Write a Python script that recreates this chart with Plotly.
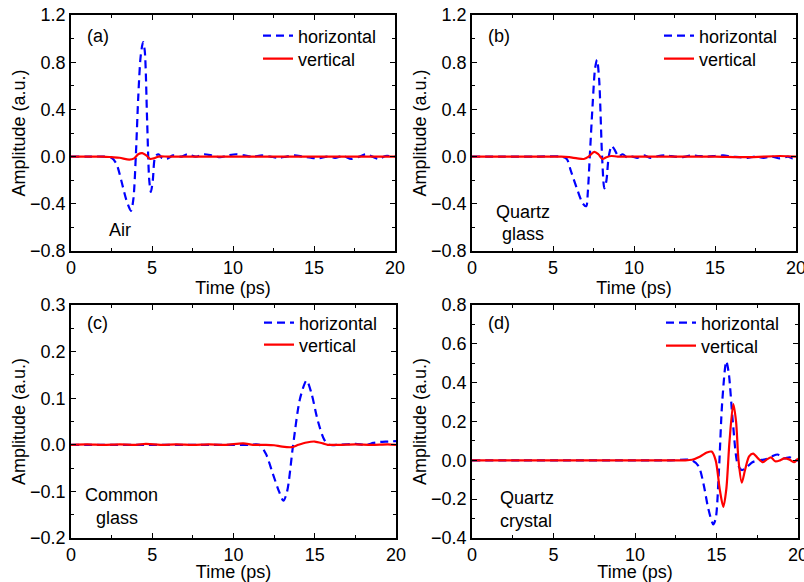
import plotly.graph_objects as go

# ---------------- data ----------------
# (a) Air
a_h_t = [0, 1, 2, 2.5, 2.8, 3.1, 3.4, 3.7, 3.85, 4.0, 4.15, 4.3, 4.45, 4.55, 4.7, 4.83, 4.93, 5.05, 5.2, 5.4, 5.6, 5.9, 6.3, 6.8, 7.2, 7.7, 8.2, 8.7, 9.2, 9.7, 10.2, 10.7, 11.2, 11.8, 12.3, 12.8, 13.3, 13.8, 14.3, 14.8, 15.3, 15.8, 16.3, 16.8, 17.3, 17.8, 18.2, 18.6, 19.0, 19.4, 20]
a_h_v = [0, 0, 0, -0.01, -0.06, -0.2, -0.36, -0.46, -0.36, 0.0, 0.5, 0.85, 0.97, 0.9, 0.3, -0.2, -0.3, -0.2, 0.0, 0.02, -0.01, -0.02, 0.01, 0.0, 0.02, 0.0, 0.02, 0.01, -0.005, 0.01, 0.02, 0.01, 0.0, 0.01, 0.0, -0.01, 0.0, 0.01, 0.0, -0.01, -0.015, 0.0, -0.01, 0.005, -0.02, 0.0, 0.02, 0.0, -0.02, 0.005, 0.0]
a_v_t = [0, 1, 2, 2.5, 3.0, 3.6, 3.9, 4.15, 4.4, 4.65, 4.9, 5.1, 5.4, 6.0, 8, 10, 12, 14, 16, 18, 20]
a_v_v = [0, 0, 0, -0.005, -0.01, -0.025, -0.015, 0.02, 0.03, 0.01, -0.02, -0.015, 0.0, 0.0, 0.0, 0.0, 0.0, 0.0, 0.0, 0.0, 0.0]

# (b) Quartz glass
b_h_t = [0, 2, 4, 5.5, 5.85, 6.1, 6.5, 6.85, 7.05, 7.15, 7.27, 7.45, 7.6, 7.72, 7.85, 8.03, 8.17, 8.3, 8.44, 8.62, 8.8, 9.05, 9.3, 9.6, 9.9, 10.2, 10.6, 11.0, 11.5, 12.0, 12.5, 13.0, 13.5, 14.0, 14.5, 15.0, 15.5, 16.0, 16.5, 17.0, 17.5, 18.0, 18.5, 19.0, 19.5, 19.8, 20]
b_h_v = [0, 0, 0, 0, -0.02, -0.12, -0.28, -0.4, -0.42, -0.3, 0.0, 0.45, 0.75, 0.82, 0.65, 0.0, -0.27, -0.2, 0.0, 0.09, 0.06, 0.0, 0.02, -0.01, 0.0, -0.01, 0.01, -0.01, 0.005, 0.01, 0.0, -0.005, 0.01, 0.005, 0.0, 0.005, 0.01, 0.0, -0.005, -0.01, 0.0, -0.01, 0.0, -0.015, 0.0, -0.015, 0.0]
b_v_t = [0, 2, 4, 5.5, 6.0, 6.5, 6.9, 7.2, 7.55, 7.8, 8.05, 8.3, 8.6, 9.0, 11, 13, 15, 17, 19, 20]
b_v_v = [0, 0, 0, 0, -0.005, -0.015, -0.02, 0.0, 0.04, 0.02, -0.02, -0.005, 0.005, 0.0, 0.0, 0.0, 0.0, -0.005, 0.005, 0.0]

# (c) Common glass
c_h_t = [0, 2, 4, 6, 8, 10, 11.0, 11.6, 12.0, 12.4, 12.8, 13.07, 13.3, 13.67, 14.1, 14.5, 14.8, 15.2, 15.6, 15.9, 16.5, 17.5, 18.2, 18.6, 19.0, 19.5, 20]
c_h_v = [0, 0, 0, 0, 0, 0, 0, 0, -0.02, -0.06, -0.1, -0.12, -0.1, 0.0, 0.1, 0.138, 0.11, 0.05, 0.01, 0.0, 0.0, 0.002, 0.0, 0.004, 0.006, 0.007, 0.008]
c_v_t = [0, 1, 2, 3, 4, 4.6, 5.5, 6.5, 7.5, 8.5, 9.5, 10.6, 11.2, 12.0, 12.5, 13.0, 13.6, 14.0, 14.5, 15.0, 15.5, 15.8, 16.5, 17.5, 18.5, 19.5, 20]
c_v_v = [0, 0.001, 0, 0.001, 0, 0.002, 0, 0.001, 0, 0.001, 0, 0.003, 0, 0.0, -0.001, -0.004, -0.005, 0.0, 0.005, 0.007, 0.003, 0.0, 0.0, 0.001, 0.0, 0.001, 0.0]

# (d) Quartz crystal
d_h_t = [0, 3, 6, 9, 12, 13.5, 13.9, 14.2, 14.5, 14.8, 14.95, 15.15, 15.35, 15.6, 15.75, 16.0, 16.3, 16.55, 16.8, 17.2, 17.6, 18.0, 18.4, 18.75, 19.1, 19.5, 19.8, 20]
d_h_v = [0, 0, 0, 0, 0, 0, -0.03, -0.12, -0.25, -0.33, -0.3, -0.05, 0.3, 0.51, 0.45, 0.2, -0.02, -0.05, -0.04, -0.01, 0.0, 0.005, 0.02, 0.03, 0.01, 0.015, 0.0, 0.0]
d_v_t = [0, 3, 6, 9, 12, 13.0, 13.5, 14.0, 14.4, 14.7, 14.95, 15.2, 15.42, 15.6, 15.8, 16.03, 16.2, 16.35, 16.55, 16.75, 17.0, 17.25, 17.55, 17.85, 18.1, 18.35, 18.6, 18.9, 19.15, 19.45, 19.75, 20]
d_v_v = [0, 0, 0, 0, 0, 0.0, 0.003, 0.02, 0.04, 0.045, 0.0, -0.15, -0.24, -0.15, 0.1, 0.29, 0.2, 0.0, -0.115, -0.05, 0.02, 0.035, 0.01, -0.01, 0.005, 0.015, -0.005, 0.0, 0.01, 0.005, -0.01, 0.01]

panel_labels = ["(a)", "(b)", "(c)", "(d)"]
series_names = ["horizontal", "vertical"]

W, H = 804, 582
FONT = "Liberation Sans, Arial, sans-serif"
BLUE = "#0000ff"
RED = "#ff0000"

def px_x(p):
    return p / W

def px_y(p):
    return 1 - p / H

# plot-area pixel boxes (left, right, top, bottom)
boxes = [(71, 395, 15, 251), (472, 796, 15, 251), (71, 396, 305, 538), (472, 798, 305, 538)]
yranges = [(-0.8, 1.2), (-0.8, 1.2), (-0.2, 0.3), (-0.4, 0.8)]
ydticks = [0.4, 0.4, 0.1, 0.2]
legend_rows = [(36, 59), (36, 59), (323, 345), (323, 346)]
data = [(a_h_t, a_h_v, a_v_t, a_v_v), (b_h_t, b_h_v, b_v_t, b_v_v),
        (c_h_t, c_h_v, c_v_t, c_v_v), (d_h_t, d_h_v, d_v_t, d_v_v)]

fig = go.Figure()
layout = {}
for i in range(4):
    sfx = "" if i == 0 else str(i + 1)
    xa, ya = "x" + sfx, "y" + sfx
    lg_h = "legend" if i == 0 else "legend" + str(2 * i + 1)
    lg_v = "legend" + str(2 * i + 2)
    ht, hv, vt, vv = data[i]
    fig.add_trace(go.Scatter(x=ht, y=hv, mode="lines", name=series_names[0], xaxis=xa, yaxis=ya,
                             legend=lg_h, showlegend=True,
                             line=dict(color=BLUE, width=2.2, dash="8px,5px", shape="spline", smoothing=0.8)))
    fig.add_trace(go.Scatter(x=vt, y=vv, mode="lines", name=series_names[1], xaxis=xa, yaxis=ya,
                             legend=lg_v, showlegend=True,
                             line=dict(color=RED, width=2.2, shape="spline", smoothing=0.8)))
    l, r, t, b = boxes[i]
    common = dict(showline=True, linecolor="black", linewidth=1.6, mirror="allticks",
                  ticks="inside", ticklen=5, tickwidth=1.3, tickcolor="black",
                  showgrid=False, zeroline=False, automargin=False, ticklabeloverflow="allow",
                  tickfont=dict(family=FONT, size=18, color="black"))
    layout["xaxis" + sfx] = dict(common, domain=[px_x(l), px_x(r)], range=[0, 20], dtick=5, tick0=0,
                                 anchor=ya, minor=dict(ticks="inside", ticklen=3, dtick=2.5, tickcolor="black"),
                                 title=dict(text="Time (ps)", font=dict(family=FONT, size=18, color="black"), standoff=0))
    layout["yaxis" + sfx] = dict(common, domain=[px_y(b), px_y(t)], range=list(yranges[i]), dtick=ydticks[i],
                                 tick0=0, tickformat=".1f", anchor=xa,
                                 minor=dict(ticks="inside", ticklen=3, dtick=ydticks[i] / 2, tickcolor="black"),
                                 title=dict(text="Amplitude (a.u.)", font=dict(family=FONT, size=18, color="black"), standoff=0))
    for lg, row in ((lg_h, legend_rows[i][0]), (lg_v, legend_rows[i][1])):
        layout[lg] = dict(x=px_x(r - 137), y=px_y(row), xanchor="left", yanchor="middle",
                          bgcolor="rgba(0,0,0,0)", borderwidth=0,
                          font=dict(family=FONT, size=18, color="black"))

ann = []
label_pos = [(85, 36), (486, 36), (85, 323), (486, 323)]
for lab, (x, y) in zip(panel_labels, label_pos):
    ann.append(dict(text=lab, x=px_x(x), y=px_y(y), xref="paper", yref="paper", xanchor="left",
                    yanchor="middle", showarrow=False, font=dict(family=FONT, size=18, color="black")))
names = [("Air", 107, 230, "left"), ("Quartz", 523, 212, "center"), ("glass", 523, 234, "center"),
         ("Common", 121, 495, "center"), ("glass", 117, 518, "center"),
         ("Quartz", 498, 498, "left"), ("crystal", 498, 521, "left")]
for txt, x, y, anc in names:
    ann.append(dict(text=txt, x=px_x(x), y=px_y(y), xref="paper", yref="paper", xanchor=anc,
                    yanchor="middle", showarrow=False, font=dict(family=FONT, size=18, color="black")))

fig.update_layout(width=W, height=H, margin=dict(l=0, r=0, t=0, b=0, autoexpand=False),
                  showlegend=True, paper_bgcolor="white", plot_bgcolor="white", annotations=ann, **layout)
fig.write_html("out.html", config={"displayModeBar": False},
               post_script="document.body.style.margin='0px';")
